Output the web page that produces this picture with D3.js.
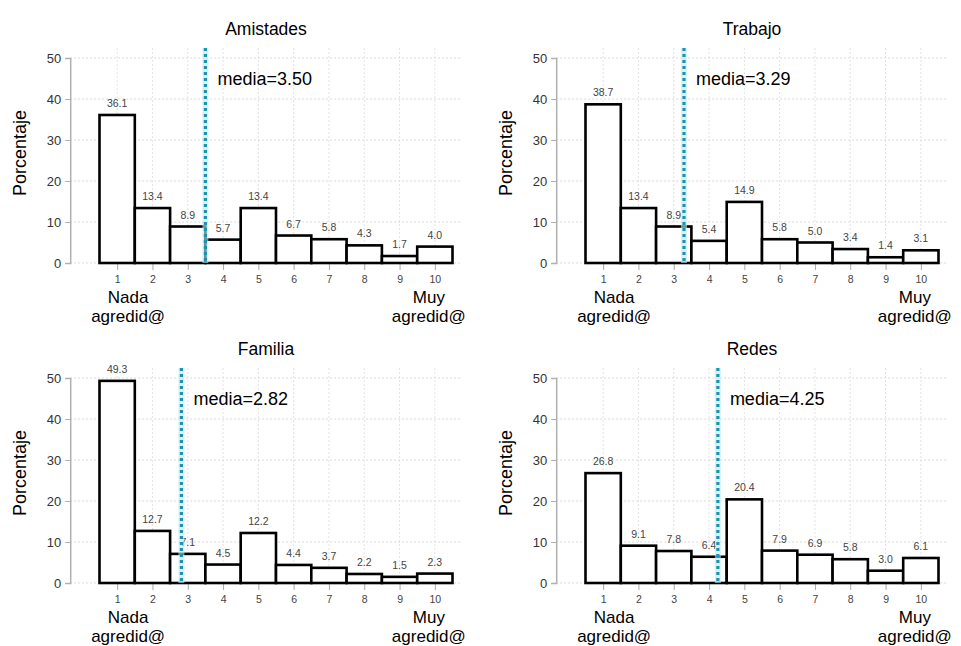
<!DOCTYPE html>
<html><head><meta charset="utf-8">
<script src="https://cdn.jsdelivr.net/npm/d3@7"></script>
<style>body{margin:0;background:#fff}svg{display:block;font-family:"Liberation Sans",Arial,sans-serif}</style>
</head><body>
<svg id="c" width="961" height="646"></svg>
<script>
const categories = [1,2,3,4,5,6,7,8,9,10];
const panelTitles = ["Amistades","Trabajo","Familia","Redes"];
const amistades = [36.1,13.4,8.9,5.7,13.4,6.7,5.8,4.3,1.7,4.0];
const trabajo   = [38.7,13.4,8.9,5.4,14.9,5.8,5.0,3.4,1.4,3.1];
const familia   = [49.3,12.7,7.1,4.5,12.2,4.4,3.7,2.2,1.5,2.3];
const redes     = [26.8,9.1,7.8,6.4,20.4,7.9,6.9,5.8,3.0,6.1];
const means = [3.50,3.29,2.82,4.25];
const yTicks = [0,10,20,30,40,50];
const yLabel = "Porcentaje";
const lowLabel = ["Nada","agredid@"];
const highLabel = ["Muy","agredid@"];

const seriesList = [amistades, trabajo, familia, redes];
const offsets = [[0,0],[486,0],[0,320],[486,320]];

const svg = d3.select("#c");

seriesList.forEach((vals, i) => {
  const [ox, oy] = offsets[i];
  const g = svg.append("g").attr("transform", `translate(${ox},${oy})`);
  const x = d3.scaleLinear().domain([0.5, 10.5]).range([99.5, 452.5]);
  const y = d3.scaleLinear().domain([0, 50]).range([263, 58]);
  const axisX = x(1 - 1.33);
  const gridRight = x(10.77);

  // grid
  g.append("g").selectAll("line").data(yTicks).join("line")
    .attr("x1", axisX).attr("x2", gridRight)
    .attr("y1", d => y(d)).attr("y2", d => y(d))
    .attr("stroke", "#d8d8d8").attr("stroke-width", 1).attr("stroke-dasharray", "2,2");
  g.append("g").selectAll("line").data(categories).join("line")
    .attr("x1", d => x(d)).attr("x2", d => x(d))
    .attr("y1", y(50) - 10).attr("y2", y(0))
    .attr("stroke", "#e2e2e2").attr("stroke-width", 1).attr("stroke-dasharray", "2,2");

  // y axis
  const ya = g.append("g").attr("transform", `translate(${axisX},0)`)
    .call(d3.axisLeft(y).tickValues(yTicks).tickSize(5).tickPadding(4));
  ya.select(".domain").attr("stroke", "#b0b0b0").attr("stroke-width", 1.5);
  ya.selectAll(".tick line").attr("stroke", "#b0b0b0");
  ya.selectAll(".tick text").attr("font-size", 13).attr("fill", "#333")
    .attr("font-family", "Liberation Sans, Arial, sans-serif");

  // x axis
  const xa = g.append("g").attr("transform", `translate(0,${y(0)})`)
    .call(d3.axisBottom(x).tickValues(categories).tickFormat(d3.format("d")).tickSize(7).tickPadding(6));
  xa.select(".domain").remove();
  xa.selectAll(".tick line").attr("stroke", "#aaa");
  xa.selectAll(".tick text").attr("font-size", 10.5).attr("fill", "#444")
    .attr("font-family", "Liberation Sans, Arial, sans-serif");

  // bars
  const bw = x(1.5) - x(0.5);
  g.append("g").selectAll("rect").data(vals).join("rect")
    .attr("x", (d, k) => x(categories[k] - 0.5))
    .attr("y", d => y(d))
    .attr("width", bw)
    .attr("height", d => y(0) - y(d))
    .attr("fill", "#fff").attr("stroke", "#000").attr("stroke-width", 2.6);

  // value labels
  g.append("g").selectAll("text").data(vals).join("text")
    .attr("x", (d, k) => x(categories[k]))
    .attr("y", d => y(d) - 8)
    .attr("text-anchor", "middle").attr("font-size", 10.5).attr("fill", "#444")
    .text(d => d.toFixed(1));

  // mean line
  const mx = x(means[i]);
  g.append("line").attr("x1", mx).attr("x2", mx)
    .attr("y1", y(50) - 10).attr("y2", y(0))
    .attr("stroke", "#bfe9f3").attr("stroke-width", 6).attr("opacity", 0.6);
  g.append("line").attr("x1", mx).attr("x2", mx)
    .attr("y1", y(50) - 10).attr("y2", y(0))
    .attr("stroke", "#1f93ad").attr("stroke-width", 3.2).attr("stroke-dasharray", "3,3");
  g.append("text").attr("x", mx + 12).attr("y", 85)
    .attr("font-size", 18).attr("fill", "#000")
    .text("media=" + means[i].toFixed(2));

  // title
  g.append("text").attr("x", 266).attr("y", 35).attr("text-anchor", "middle")
    .attr("font-size", 17.5).attr("fill", "#000").text(panelTitles[i]);

  // y label
  g.append("text").attr("transform", `translate(26,153) rotate(-90)`)
    .attr("text-anchor", "middle").attr("font-size", 18).attr("fill", "#000").text(yLabel);

  // low/high labels
  [lowLabel, highLabel].forEach((lab, j) => {
    const cx = j === 0 ? x(1) + 11 : x(10) - 6;
    lab.forEach((t, r) => {
      g.append("text").attr("x", cx).attr("y", 303 + r * 18.5)
        .attr("text-anchor", "middle").attr("font-size", 17).attr("fill", "#000").text(t);
    });
  });
});
</script>
</body></html>
